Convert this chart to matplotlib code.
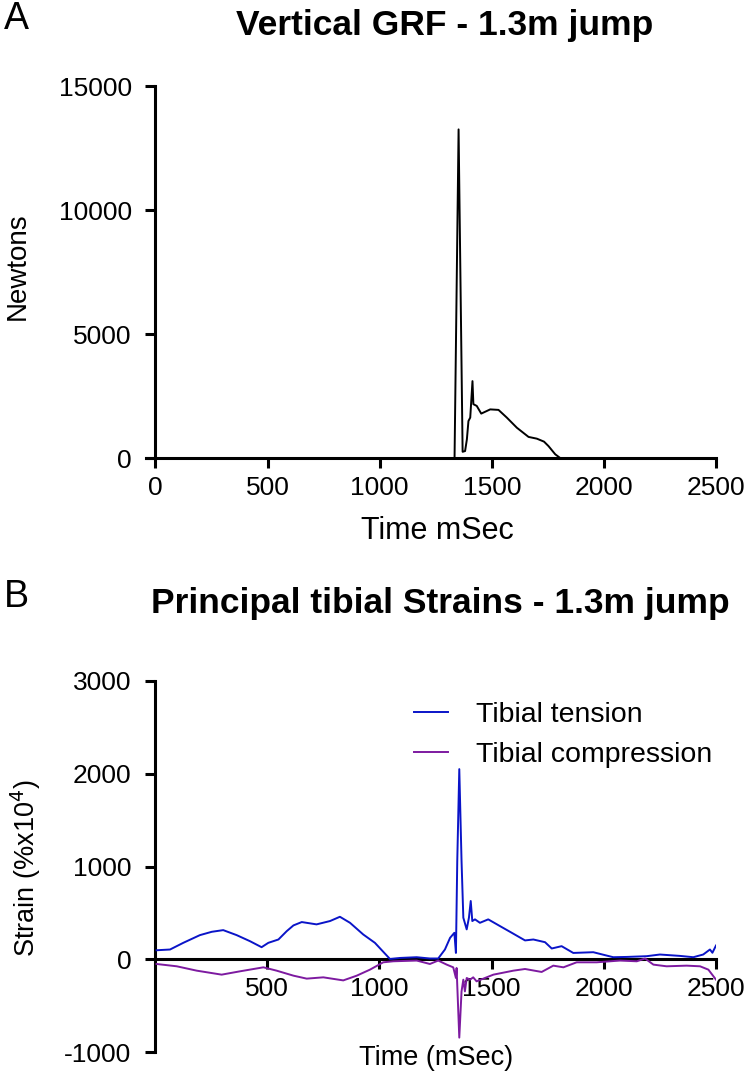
import matplotlib
matplotlib.use("Agg")
import matplotlib.pyplot as plt

plt.rcParams['font.family'] = ['Liberation Sans', 'DejaVu Sans']
plt.rcParams['axes.unicode_minus'] = False

# ---- Data: vertical ground reaction force (N) ----
grf_time = [0, 1000, 1334, 1352, 1370, 1381, 1389, 1396, 1404, 1414, 1418, 1433, 1453,
            1493, 1530, 1567, 1612, 1664, 1701, 1733, 1753, 1783, 1805, 2500]
grf_force = [0, 0, 0, 13250, 250, 280, 750, 1490, 1630, 3100, 2170, 2100, 1790,
             1960, 1940, 1630, 1220, 850, 780, 660, 480, 150, 0, 0]

# ---- Data: tibial tension strain ----
ten_time = [7, 67, 126, 200, 253, 304, 364, 423, 475, 505, 550, 587, 617, 654, 720, 780,
            824, 869, 928, 980, 1047, 1092, 1166, 1225, 1262, 1292, 1315, 1334, 1341, 1347,
            1356, 1366, 1374, 1389, 1399, 1407, 1414, 1426, 1448, 1485, 1537, 1590, 1649,
            1686, 1738, 1768, 1812, 1864, 1953, 2042, 2102, 2191, 2250, 2340, 2399, 2443,
            2473, 2484, 2500]
ten_strain = [97, 105, 177, 260, 296, 314, 260, 195, 130, 177, 213, 303, 365, 401, 376, 412,
              458, 393, 267, 177, 3, 14, 22, 8, 8, 105, 231, 285, 68, 1062,
              2050, 1062, 448, 322, 448, 628, 412, 430, 393, 430, 358, 285, 203,
              213, 184, 116, 141, 68, 76, 22, 25, 33, 51, 36, 22, 51,
              105, 70, 148]

# ---- Data: tibial compression strain ----
com_time = [7, 97, 186, 297, 379, 483, 542, 617, 676, 750, 839, 899, 958, 1017, 1062,
            1166, 1225, 1262, 1300, 1329, 1341, 1344, 1356, 1366, 1374, 1381, 1389, 1404,
            1418, 1433, 1508, 1597, 1649, 1723, 1775, 1820, 1879, 1968, 2072, 2147, 2184,
            2221, 2280, 2369, 2429, 2466, 2500]
com_strain = [-51, -76, -123, -166, -130, -87, -123, -177, -209, -195, -228, -177, -112, -33, -22,
              -14, -51, -14, -58, -87, -202, -94, -845, -347, -220, -347, -202, -220,
              -195, -238, -166, -123, -105, -137, -69, -87, -33, -33, -14, -22, 8,
              -58, -76, -69, -76, -112, -220]

grf_xticks = [0, 500, 1000, 1500, 2000, 2500]
grf_yticks = [0, 5000, 10000, 15000]
str_xticks = [500, 1000, 1500, 2000, 2500]
str_yticks = [-1000, 0, 1000, 2000, 3000]

W, H = 748, 1076
fig = plt.figure(figsize=(W / 100, H / 100), dpi=100)

def box(l, t, r, b):
    return [l / W, 1 - b / H, (r - l) / W, (b - t) / H]

def fy(y):
    return 1 - y / H

SPW = 2.2
TICK_FS = 19

# ---- Panel A ----
ax1 = fig.add_axes(box(146, 86, 716, 458))
ax1.plot(grf_time, grf_force, color='black', lw=1.4, zorder=3)
ax1.set_xlim(-42, 2500)
ax1.set_ylim(0, 15000)
ax1.spines['left'].set_position(('data', 0))
for s in ['top', 'right']:
    ax1.spines[s].set_visible(False)
for s in ['left', 'bottom']:
    ax1.spines[s].set_linewidth(SPW)
ax1.set_xticks(grf_xticks)
ax1.set_yticks(grf_yticks)
ax1.tick_params(width=SPW, length=7, labelsize=TICK_FS)
ax1.tick_params(axis='y', pad=10)
ax1.tick_params(axis='x', pad=6)
fig.text(437 / W, fy(531), 'Time mSec', ha='center', va='center', fontsize=22)
fig.text(18 / W, fy(266), 'Newtons', ha='center', va='center', fontsize=20,
         rotation=90)
fig.text(445 / W, fy(26), 'Vertical GRF - 1.3m jump', ha='center', va='center',
         fontsize=25.5, fontweight='bold')
fig.text(4 / W, fy(19), 'A', ha='left', va='center', fontsize=27)

# ---- Panel B ----
ax2 = fig.add_axes(box(155, 681, 716, 1052))
ax2.plot(ten_time, ten_strain, color='#0a14c8', lw=1.4, label='Tibial tension', zorder=3)
ax2.plot(com_time, com_strain, color='#7d1aa0', lw=1.4, label='Tibial compression', zorder=3)
ax2.set_xlim(0, 2500)
ax2.set_ylim(-1000, 3000)
ax2.spines['bottom'].set_position(('data', 0))
for s in ['top', 'right']:
    ax2.spines[s].set_visible(False)
for s in ['left', 'bottom']:
    ax2.spines[s].set_linewidth(SPW)
ax2.set_xticks(str_xticks)
ax2.set_yticks(str_yticks)
ax2.tick_params(width=SPW, length=7, labelsize=TICK_FS)
ax2.tick_params(axis='y', pad=10)
ax2.tick_params(axis='x', pad=6)
fig.text(436 / W, fy(1058), 'Time (mSec)', ha='center', va='center', fontsize=19.5)
fig.text(26 / W, fy(868), 'Strain (%x10$^4$)', ha='center', va='center',
         fontsize=19.5, rotation=90)
leg = ax2.legend(loc='upper left', bbox_to_anchor=(388 / W, fy(676)),
                 bbox_transform=fig.transFigure, frameon=False, fontsize=20.5,
                 handlelength=1.2, handletextpad=1.0, labelspacing=0.5)
fig.text(440 / W, fy(603), 'Principal tibial Strains - 1.3m jump', ha='center',
         va='center', fontsize=25.5, fontweight='bold')
fig.text(4 / W, fy(597), 'B', ha='left', va='center', fontsize=27)

fig.savefig('out.png', dpi=100)
